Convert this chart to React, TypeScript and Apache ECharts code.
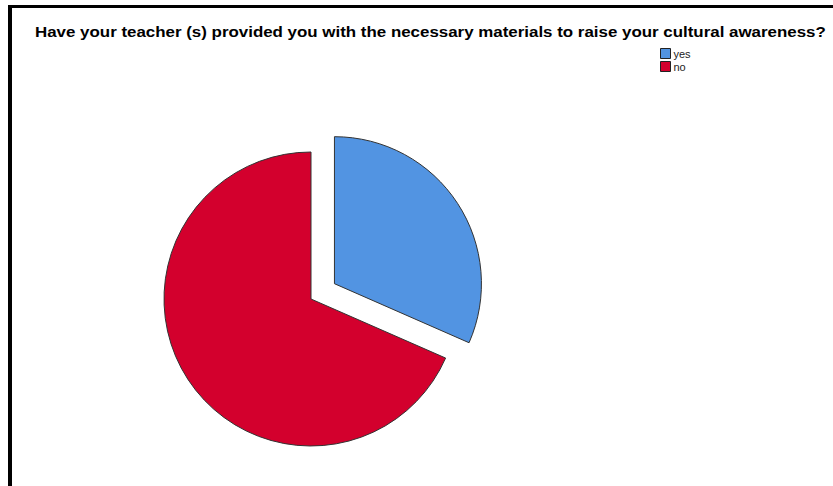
import React, { useEffect, useRef } from "react";
import * as echarts from "echarts";

const titleText =
  "Have your teacher (s) provided you with the necessary materials to raise your cultural awareness?";
const categories = ["yes", "no"];
const counts = [18, 39];
const colors = ["#5294e2", "#d3002d"];

export default function App() {
  const ref = useRef<HTMLDivElement>(null);
  useEffect(() => {
    if (!ref.current) return;
    const chart = echarts.init(ref.current, undefined, { renderer: "svg" });
    chart.setOption({
      animation: false,
      backgroundColor: "#ffffff",
      legend: {
        orient: "vertical",
        left: 660,
        top: 48,
        padding: 0,
        itemWidth: 10,
        itemHeight: 10,
        itemGap: 2,
        icon: "rect",
        selectedMode: false,
        data: categories,
        itemStyle: { borderColor: "#222", borderWidth: 1 },
        textStyle: {
          fontFamily: "Liberation Sans, Arial, sans-serif",
          fontSize: 11,
          color: "#222",
          padding: [0, 0, 0, -2],
        },
      },
      graphic: [
        { type: "rect", shape: { x: 8, y: 5, width: 4, height: 481 }, style: { fill: "#000" } },
        { type: "rect", shape: { x: 8, y: 5, width: 825, height: 3 }, style: { fill: "#000" } },
        {
          type: "text",
          x: 35,
          y: 32,
          scaleX: 1.128,
          style: {
            text: titleText,
            fontFamily: "Liberation Sans, Arial, sans-serif",
            fontSize: 15,
            fontWeight: "bold",
            fill: "#000",
            verticalAlign: "middle",
            align: "left",
          },
        },
      ],
      series: [
        {
          type: "pie",
          center: [311, 299],
          radius: 147,
          startAngle: 90,
          clockwise: true,
          selectedMode: "single",
          selectedOffset: 28,
          label: { show: false },
          labelLine: { show: false },
          emphasis: { disabled: true },
          itemStyle: { borderColor: "#333", borderWidth: 1 },
          data: categories.map((name, i) => ({
            name,
            value: counts[i],
            selected: i === 0,
            itemStyle: { color: colors[i] },
          })),
        },
      ],
    });
    return () => chart.dispose();
  }, []);
  return (
    <div
      ref={ref}
      style={{ position: "fixed", left: 0, top: 0, width: 833, height: 486 }}
    />
  );
}
